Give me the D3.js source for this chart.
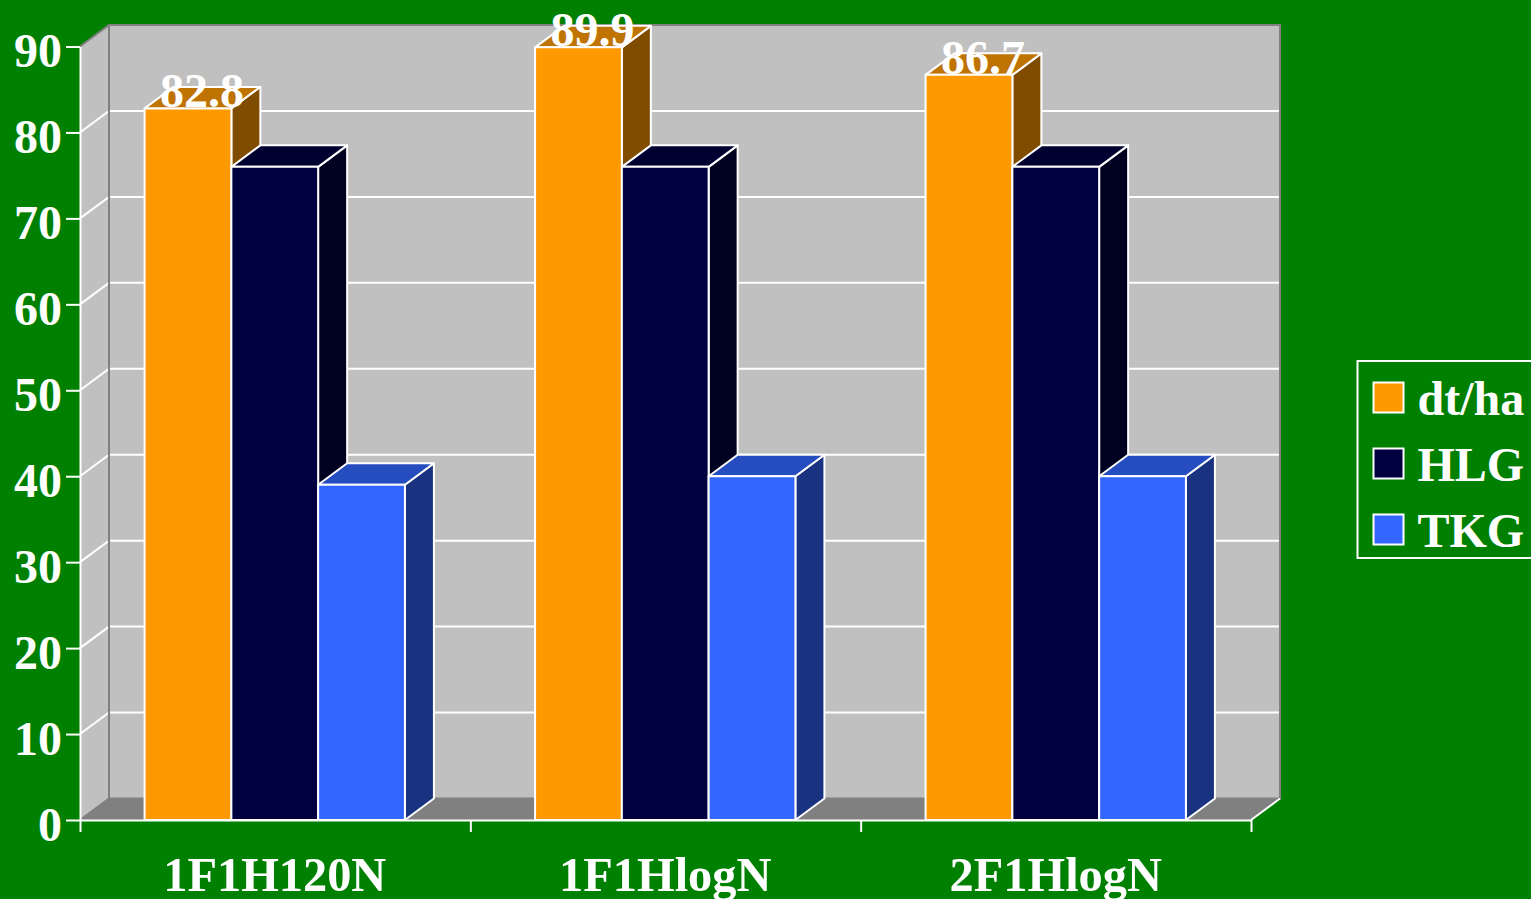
<!DOCTYPE html>
<html>
<head>
<meta charset="utf-8">
<script src="https://cdn.jsdelivr.net/npm/d3@7"></script>
<style>
	html, body { margin: 0; padding: 0; background: #008000; overflow: hidden; }
	svg { display: block; }
	text { font-family: "Liberation Serif", serif; font-weight: bold; font-size: 48px; fill: #fff; }
</style>
</head>
<body>
<div id="chart"></div>
<script>
let groups = ["1F1H120N", "1F1HlogN", "2F1HlogN"];
let seriesNames = ["dt/ha", "HLG", "TKG"];
let dtha = [82.8, 89.9, 86.7];
let hlg = [76, 76, 76];
let tkg = [39, 40, 40];
let yTicks = [0, 10, 20, 30, 40, 50, 60, 70, 80, 90];

// front, top and side shade per series
let fronts = ["#ff9900", "#000040", "#3366ff"];
let tops = ["#bf7300", "#000030", "#264dbf"];
let sides = ["#804d00", "#000020", "#1a3380"];

let width = 1531;
let height = 899;
let depth = { x: 29, y: -21.5 };
let plot = { left: 80, right: 1251, top: 46.5, bottom: 820 };
let white = "#fff";
let wallEdge = "#808080";

let svg = d3.select("#chart").append("svg").attr("width", width).attr("height", height);
svg.append("rect").attr("width", width).attr("height", height).attr("fill", "#008000");

let xScale = d3.scaleBand().domain(groups).range([plot.left - 0.5, plot.right]).paddingInner(1 / 3).paddingOuter(1 / 6);
let xBar = d3.scaleBand().domain(seriesNames).range([0, xScale.bandwidth()]);
let xEdges = d3.scaleLinear().domain([0, groups.length]).range([plot.left, plot.right]);
let yScale = d3.scaleLinear().domain([0, 90]).range([plot.bottom, plot.top]);

let poly = (pts) => pts.map((p) => p.join(",")).join(" ");

// side wall, floor, back wall
svg.append("polygon")
	.attr("points", poly([
		[plot.left, plot.top],
		[plot.left + depth.x, plot.top + depth.y],
		[plot.left + depth.x, plot.bottom + depth.y],
		[plot.left, plot.bottom],
	]))
	.attr("fill", "#c0c0c0");
svg.append("rect")
	.attr("x", plot.left + depth.x)
	.attr("y", plot.top + depth.y)
	.attr("width", plot.right - plot.left)
	.attr("height", plot.bottom - plot.top)
	.attr("fill", "#c0c0c0");
svg.append("polygon")
	.attr("points", poly([
		[plot.left, plot.bottom],
		[plot.left + depth.x, plot.bottom + depth.y],
		[plot.right + depth.x, plot.bottom + depth.y],
		[plot.right, plot.bottom],
	]))
	.attr("fill", "#808080");

// grid lines on both walls
let gridTicks = yTicks.filter((d) => d > 0 && d < 90);
svg.append("g")
	.selectAll("polyline")
	.data(gridTicks)
	.join("polyline")
	.attr("points", (d) => poly([
		[plot.left, yScale(d)],
		[plot.left + depth.x, yScale(d) + depth.y],
		[plot.right + depth.x, yScale(d) + depth.y],
	]))
	.attr("fill", "none")
	.attr("stroke", white)
	.attr("stroke-width", 2);

// wall edges
svg.append("polyline")
	.attr("points", poly([
		[plot.left, plot.top],
		[plot.left + depth.x, plot.top + depth.y],
		[plot.right + depth.x, plot.top + depth.y],
		[plot.right + depth.x, plot.bottom + depth.y],
		[plot.left + depth.x, plot.bottom + depth.y],
		[plot.left, plot.bottom],
	]))
	.attr("fill", "none")
	.attr("stroke", wallEdge)
	.attr("stroke-width", 2);
svg.append("line")
	.attr("x1", plot.left + depth.x)
	.attr("x2", plot.left + depth.x)
	.attr("y1", plot.top + depth.y)
	.attr("y2", plot.bottom + depth.y)
	.attr("stroke", wallEdge)
	.attr("stroke-width", 2);

// floor front-right edge
svg.append("line")
	.attr("x1", plot.right)
	.attr("y1", plot.bottom)
	.attr("x2", plot.right + depth.x)
	.attr("y2", plot.bottom + depth.y)
	.attr("stroke", white)
	.attr("stroke-width", 2);

// bars
let seriesValues = [dtha, hlg, tkg];
let barData = [];
groups.forEach((g, i) => {
	seriesNames.forEach((s, j) => {
		barData.push({ group: g, series: s, index: j, value: seriesValues[j][i] });
	});
});

let bars = svg.append("g")
	.selectAll("g")
	.data(barData)
	.join("g")
	.attr("stroke", white)
	.attr("stroke-width", 2)
	.attr("stroke-linejoin", "round");

bars.append("polygon")
	.attr("fill", (d) => sides[d.index])
	.attr("points", (d) => {
		let x1 = xScale(d.group) + xBar(d.series) + xBar.bandwidth();
		let y = yScale(d.value);
		return poly([
			[x1, y],
			[x1 + depth.x, y + depth.y],
			[x1 + depth.x, plot.bottom + depth.y],
			[x1, plot.bottom],
		]);
	});
bars.append("polygon")
	.attr("fill", (d) => tops[d.index])
	.attr("points", (d) => {
		let x0 = xScale(d.group) + xBar(d.series);
		let x1 = x0 + xBar.bandwidth();
		let y = yScale(d.value);
		return poly([
			[x0, y],
			[x0 + depth.x, y + depth.y],
			[x1 + depth.x, y + depth.y],
			[x1, y],
		]);
	});
bars.append("rect")
	.attr("x", (d) => xScale(d.group) + xBar(d.series))
	.attr("y", (d) => yScale(d.value))
	.attr("width", xBar.bandwidth())
	.attr("height", (d) => plot.bottom - yScale(d.value))
	.attr("fill", (d) => fronts[d.index]);

// axes
let yAxis = d3.axisLeft(yScale).tickValues(yTicks).tickSize(14).tickSizeOuter(0).tickPadding(4);
svg.append("g")
	.attr("transform", `translate(${plot.left},0)`)
	.call(yAxis)
	.call((g) => g.selectAll("path,line").attr("stroke", white).attr("stroke-width", 2))
	.call((g) => g.selectAll("text").attr("dy", "20px").style("font-size", "48px").style("font-family", "Liberation Serif"));

let xTicks = d3.axisBottom(xEdges).tickValues(d3.range(groups.length + 1)).tickSize(12).tickSizeOuter(0).tickFormat("");
svg.append("g")
	.attr("transform", `translate(0,${plot.bottom})`)
	.call(xTicks)
	.call((g) => g.selectAll("path,line").attr("stroke", white).attr("stroke-width", 2));

let xAxis = d3.axisBottom(xScale).tickSize(0);
svg.append("g")
	.attr("transform", `translate(0,${plot.bottom})`)
	.call(xAxis)
	.call((g) => g.select("path").remove())
	.call((g) => g.selectAll("text").attr("y", 71).attr("dy", 0).style("font-size", "48.4px").style("font-family", "Liberation Serif"));

// value labels, first series only
svg.append("g")
	.selectAll("text")
	.data(barData.filter((d) => d.index === 0))
	.join("text")
	.attr("x", (d) => xScale(d.group) + xBar.bandwidth() / 2 + depth.x / 2 - 0.5)
	.attr("y", (d) => yScale(d.value) - 1)
	.attr("text-anchor", "middle")
	.text((d) => d.value);

// legend runs off the right edge in the original
let legendY = d3.scalePoint().domain(seriesNames).range([382.5, 514.5]);
svg.append("rect")
	.attr("x", 1357.5)
	.attr("y", 361)
	.attr("width", 190)
	.attr("height", 197)
	.attr("fill", "none")
	.attr("stroke", white)
	.attr("stroke-width", 2);
let legend = svg.append("g")
	.selectAll("g")
	.data(seriesNames)
	.join("g")
	.attr("transform", (d) => `translate(1373.5,${legendY(d)})`);
legend.append("rect")
	.attr("width", 30)
	.attr("height", 30)
	.attr("fill", (d, i) => fronts[i])
	.attr("stroke", white)
	.attr("stroke-width", 2);
legend.append("text")
	.attr("x", 44)
	.attr("y", 32.5)
	.text((d) => d);
</script>
</body>
</html>
